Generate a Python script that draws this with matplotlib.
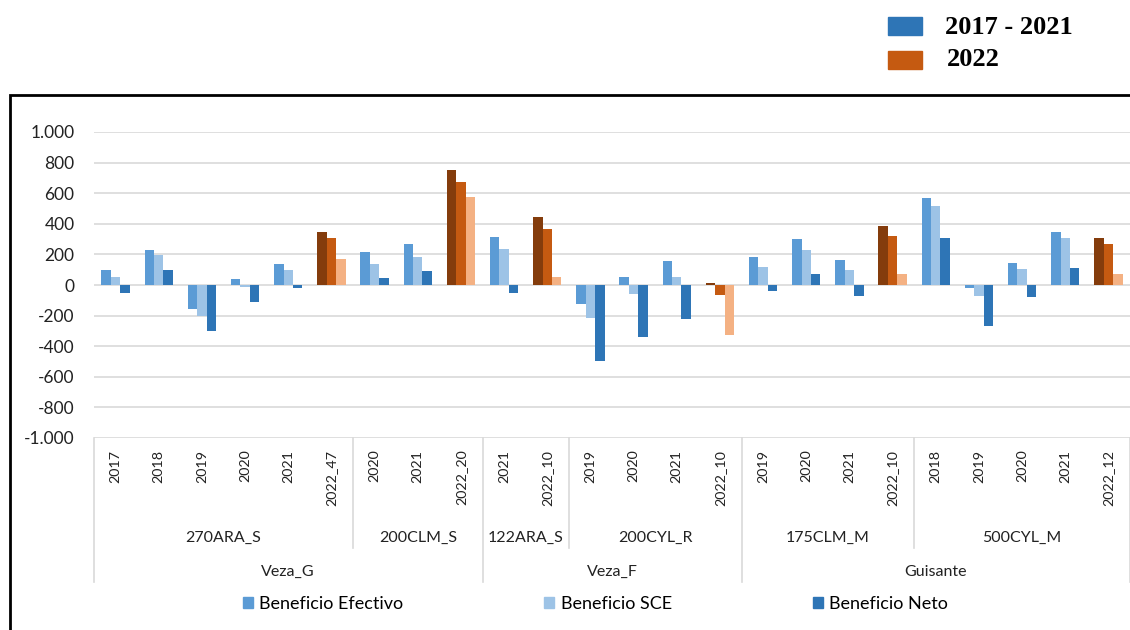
import matplotlib.pyplot as plt
from matplotlib.patches import Rectangle, Patch
from matplotlib.lines import Line2D

plt.rcParams['font.family'] = ['Lato', 'DejaVu Sans']

# Data
years = ['2017', '2018', '2019', '2020', '2021', '2022_47',
         '2020', '2021', '2022_20',
         '2021', '2022_10',
         '2019', '2020', '2021', '2022_10',
         '2019', '2020', '2021', '2022_10',
         '2018', '2019', '2020', '2021', '2022_12']
zones = ['270ARA_S', '200CLM_S', '122ARA_S', '200CYL_R', '175CLM_M', '500CYL_M']
zone_counts = [6, 3, 2, 4, 4, 5]
crops = ['Veza_G', 'Veza_F', 'Guisante']
crop_zone_counts = [2, 2, 2]

efectivo = [96, 231, -155, 37, 139, 346,
            216, 270, 752,
            312, 444,
            -124, 50, 155, 13,
            183, 298, 163, 386,
            569, -22, 144, 344, 307]
sce = [52, 194, -200, -11, 100, 309,
       137, 183, 673,
       235, 366,
       -216, -57, 50, -63,
       118, 231, 96, 320,
       514, -70, 105, 305, 268]
neto = [-50, 96, -298, -113, -17, 170,
        46, 91, 575,
        -50, 52,
        -497, -340, -222, -325,
        -41, 72, -70, 72,
        309, -270, -78, 113, 72]

series_names = ['Beneficio Efectivo', 'Beneficio SCE', 'Beneficio Neto']
blue_colors = ['#5B9BD5', '#9DC3E6', '#2E75B6']
orange_colors = ['#843C0C', '#C55A11', '#F4B183']

W, H = 1130, 630
fig = plt.figure(figsize=(W / 100, H / 100), dpi=100)
ax = fig.add_axes([94 / W, 1 - 438 / H, (W - 94) / W, 306 / H])

n = len(years)
x = [i + 0.5 for i in range(n)]
bw = 0.22
is_2022 = [y.startswith('2022') for y in years]

for k, vals in enumerate([efectivo, sce, neto]):
    cols = [orange_colors[k] if f else blue_colors[k] for f in is_2022]
    ax.bar([xi + (k - 1) * bw for xi in x], vals, width=bw, color=cols,
           edgecolor='none', zorder=3)

ax.set_xlim(0, n)
ax.set_ylim(-1000, 1000)
ax.set_yticks(range(-1000, 1001, 200))
ax.set_yticklabels([f'{v:,}'.replace(',', '.') for v in range(-1000, 1001, 200)],
                   fontsize=12.5, color='#222222')
ax.tick_params(axis='y', length=0, pad=14)
ax.set_xticks([])
ax.yaxis.grid(True, color='#D9D9D9', linewidth=1.2, zorder=0)
for s in ax.spines.values():
    s.set_visible(False)

tr = ax.get_xaxis_transform()
# year labels
for xi, lab in zip(x, years):
    ax.text(xi, -0.038, lab, rotation=90, ha='center', va='top', fontsize=10.3,
            family=['Liberation Sans Narrow', 'Lato'], transform=tr,
            color='#222222')

# zone labels and separators
inner_bot = -0.359
outer_bot = -0.471
pos = 0
zone_edges = [0]
for name, c in zip(zones, zone_counts):
    ax.text(pos + c / 2, -0.3268, name, ha='center', va='center', fontsize=11.5,
            transform=tr, color='#222222')
    pos += c
    zone_edges.append(pos)

crop_edges = [0]
zi = 0
for name, c in zip(crops, crop_zone_counts):
    start = zone_edges[zi]
    zi += c
    end = zone_edges[zi]
    crop_edges.append(end)
    ax.text((start + end) / 2, -0.438, name, ha='center', va='center',
            fontsize=11.5, transform=tr, color='#222222')

for e in zone_edges:
    bot = outer_bot if e in crop_edges else inner_bot
    ax.add_line(Line2D([e, e], [0, bot], transform=tr, color='#D9D9D9',
                       linewidth=1.2, clip_on=False))

# bottom legend
fig.legend(handles=[Patch(color=c) for c in blue_colors], labels=series_names,
           loc='center', bbox_to_anchor=(0.527, 1 - 604 / H), ncol=3,
           frameon=False, fontsize=13, handlelength=0.55, handleheight=0.55,
           handletextpad=0.35, columnspacing=7.8)

# top legend
fig.add_artist(Rectangle((888 / W, 1 - 35 / H), 34 / W, 18 / H,
                         transform=fig.transFigure, color='#2E75B6'))
fig.add_artist(Rectangle((888 / W, 1 - 69 / H), 34 / W, 18 / H,
                         transform=fig.transFigure, color='#C55A11'))
fig.text(945 / W, 1 - 27 / H, '2017 - 2021', ha='left', va='center',
         fontsize=19, fontweight='bold', family='Liberation Serif')
fig.text(947 / W, 1 - 59 / H, '2022', ha='left', va='center',
         fontsize=19, fontweight='bold', family='Liberation Serif')

# outer frame
fig.add_artist(Rectangle((10 / W, -0.1), 2, 1 - 95 / H + 0.1,
                         transform=fig.transFigure, fill=False,
                         edgecolor='black', linewidth=2))

fig.savefig('out.png', dpi=100)
